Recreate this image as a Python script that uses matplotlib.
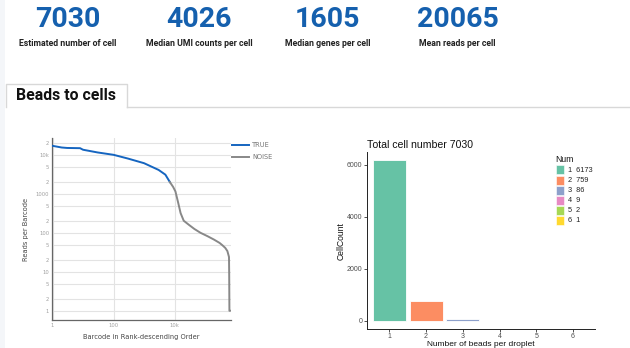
import matplotlib
matplotlib.use("Agg")
import matplotlib.pyplot as plt
from matplotlib import font_manager
from matplotlib.patches import Rectangle
from matplotlib.lines import Line2D

# ---------------- data ----------------
kpi_values = ["7030", "4026", "1605", "20065"]
kpi_labels = ["Estimated number of cell", "Median UMI counts per cell",
              "Median genes per cell", "Mean reads per cell"]

true_rank = [1, 2, 3, 8, 10, 30, 100, 300, 1000, 3000, 5000, 7030]
true_reads = [17000, 15400, 15000, 14800, 13500, 11500, 10000, 8000, 6100, 4100, 3100, 2000]
noise_rank = [7030, 9000, 10700, 12900, 15800, 20000, 29600, 45000, 71000, 120000,
              196000, 300000, 370000, 460000, 540000, 610000, 620000, 630000, 650000]
noise_reads = [2000, 1500, 1150, 630, 320, 204, 160, 125, 100, 82, 67, 55, 48, 41, 34, 24, 8, 1, 1]

beads = [1, 2, 3, 4, 5, 6]
cell_counts = [6173, 759, 86, 9, 2, 1]
total_cells = 7030
bar_colors = ["#66C2A5", "#FC8D62", "#8DA0CB", "#E78AC3", "#A6D854", "#FFD92F"]

y_ticks = [1, 2, 5, 10, 20, 50, 100, 200, 500, 1000, 2000, 5000, 10000, 20000]
y_tick_labels = ["1", "2", "5", "10", "2", "5", "100", "2", "5", "1000", "2", "5", "10k", "2"]
x_ticks = [1, 100, 10000]
x_tick_labels = ["1", "100", "10k"]

# ---------------- fonts ----------------
names = {f.name for f in font_manager.fontManager.ttflist}
narrow = "Liberation Sans Narrow" if "Liberation Sans Narrow" in names else "Roboto"

W, H = 630, 348
fig = plt.figure(figsize=(W / 100, H / 100), dpi=100)
fig.patch.set_facecolor("white")


def fx(x):
    return x / W


def fy(y):
    return 1 - y / H


# left light strip
fig.add_artist(Rectangle((0, 0), fx(5), 1, transform=fig.transFigure,
                         facecolor="#f4f6f9", edgecolor="none", zorder=0))

# KPI header
kpi_x = [68, 199, 327.5, 457.5]
for x, v, lab in zip(kpi_x, kpi_values, kpi_labels):
    fig.text(fx(x), fy(19.5), v, ha="center", va="center", fontsize=20.5,
             fontweight="bold", color="#1560ae", family=narrow)
    fig.text(fx(x), fy(43.5), lab, ha="center", va="center", fontsize=6.3,
             fontweight="bold", color="#222222", family=narrow)

# Tab
tab_l, tab_r, tab_t, tab_b = 5.5, 127, 83.5, 107
fig.add_artist(Line2D([fx(tab_l), fx(tab_l), fx(tab_r), fx(tab_r)],
                      [fy(tab_b), fy(tab_t), fy(tab_t), fy(tab_b)],
                      transform=fig.transFigure, color="#d8d8d8", lw=1))
fig.add_artist(Line2D([fx(tab_r), 1], [fy(tab_b), fy(tab_b)],
                      transform=fig.transFigure, color="#d8d8d8", lw=1))
fig.text(fx(16), fy(95.5), "Beads to cells", ha="left", va="center", fontsize=11.4,
         fontweight="semibold", color="#111111", family="Roboto")

# ---------------- left chart ----------------
axL = fig.add_axes([fx(52), fy(320), fx(231 - 52), (320 - 138) / H])
axL.set_xscale("log")
axL.set_yscale("log")
axL.plot(true_rank, true_reads, color="#1565c0", lw=1.4, label="TRUE", zorder=3)
axL.plot(noise_rank, noise_reads, color="#888888", lw=1.4, label="NOISE", zorder=3)
axL.set_xlim(0.96, 7.1e5)
axL.set_ylim(0.58, 2.7e4)
axL.set_yticks(y_ticks)
axL.set_yticklabels(y_tick_labels)
axL.set_yticks([], minor=True)
axL.set_xticks(x_ticks)
axL.set_xticklabels(x_tick_labels)
axL.set_xticks([], minor=True)
axL.tick_params(length=0, labelsize=3.8, labelcolor="#a0a0a0", pad=2)
axL.grid(True, color="#e3e3e3", lw=0.8)
axL.set_axisbelow(True)
for s in ["top", "right"]:
    axL.spines[s].set_visible(False)
for s in ["left", "bottom"]:
    axL.spines[s].set_color("#666666")
    axL.spines[s].set_linewidth(0.9)
axL.set_ylabel("Reads per Barcode", fontsize=4.8, color="#444444", labelpad=4.5)
axL.set_xlabel("Barcode in Rank-descending Order", fontsize=4.8, color="#444444", labelpad=4.5)
legL = axL.legend(loc="upper left", bbox_to_anchor=(fx(232), fy(142)),
                  bbox_transform=fig.transFigure, frameon=False, fontsize=4.8,
                  handlelength=2.6, handletextpad=0.45, labelspacing=0.95,
                  borderpad=0, borderaxespad=0)
for t in legL.get_texts():
    t.set_color("#777777")

# ---------------- right chart ----------------
axR = fig.add_axes([fx(367.3), fy(329), fx(595 - 367.3), (329 - 152.4) / H])
bars = axR.bar(beads, cell_counts, width=0.9, color=bar_colors, edgecolor="white",
               linewidth=0.6, zorder=2)
axR.set_xlim(0.4, 6.6)
axR.set_ylim(-309, 6482)
axR.set_xticks(beads)
axR.set_yticks([0, 2000, 4000, 6000])
axR.tick_params(length=2, width=0.6, color="#333333", labelsize=5,
                labelcolor="#4d4d4d", pad=1.5)
axR.tick_params(axis="x", pad=1.0)
for s in ["top", "right"]:
    axR.spines[s].set_visible(False)
for s in ["left", "bottom"]:
    axR.spines[s].set_color("#222222")
    axR.spines[s].set_linewidth(0.7)
axR.set_ylabel("CellCount", fontsize=6.2, color="#111111", labelpad=0.5,
               family="Liberation Sans")
axR.set_xlabel("Number of beads per droplet", fontsize=6.0, color="#111111", labelpad=0.6,
               family="Liberation Sans")
axR.set_title(f"Total cell number {total_cells}", loc="left", fontsize=7.6,
              color="#111111", pad=3.5, family="Liberation Sans")
for lbl in axR.get_xticklabels() + axR.get_yticklabels():
    lbl.set_family("Liberation Sans")

# legend (ggplot-style), keys coloured like the bars
fig.text(fx(555), fy(159.5), "Num", ha="left", va="center", fontsize=6.2,
         color="#111111", family="Liberation Sans")
for i, (b, c, col) in enumerate(zip(beads, cell_counts, bar_colors)):
    yc = 170 + 10 * i
    fig.add_artist(Rectangle((fx(555.7), fy(yc + 4.5)), fx(8), 9 / H,
                             transform=fig.transFigure, facecolor=col,
                             edgecolor="white", lw=0.4))
    fig.text(fx(567.5), fy(yc), f"{b}  {c}", ha="left", va="center", fontsize=5.3,
             color="#222222", family="Liberation Sans")

fig.savefig("out.png", dpi=100, facecolor="white")
